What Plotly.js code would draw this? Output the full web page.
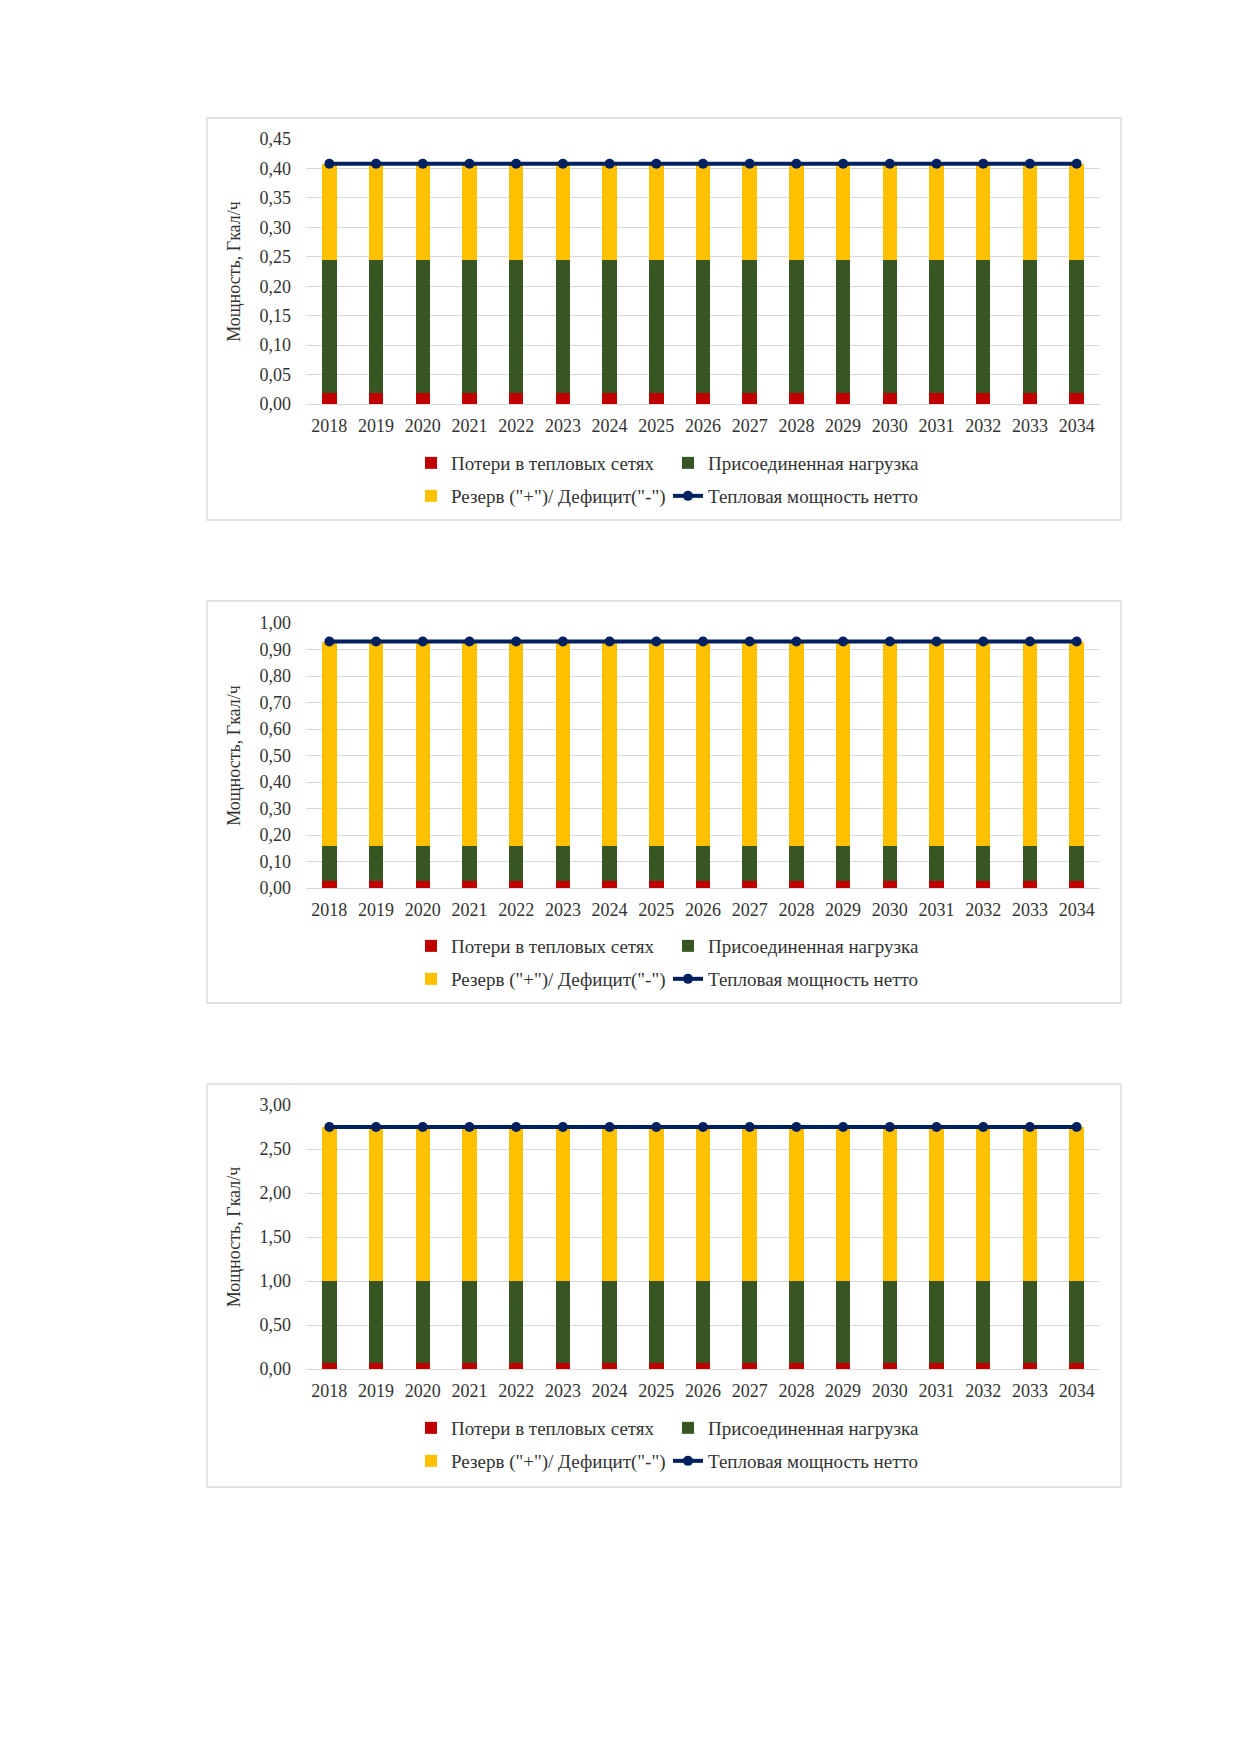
<!DOCTYPE html>
<html>
<head>
<meta charset="utf-8">
<script src="https://cdn.plot.ly/plotly-3.0.1.min.js"></script>
<style>
html,body{margin:0;padding:0;background:#fff;}
#chart{width:1239px;height:1752px;}
</style>
</head>
<body>
<div id="chart"></div>
<script>
// ---------- DATA ----------
const years = ["2018","2019","2020","2021","2022","2023","2024","2025","2026","2027","2028","2029","2030","2031","2032","2033","2034"];
const seriesNames = ["Потери в тепловых сетях","Присоединенная нагрузка","Резерв (\"+\")/ Дефицит(\"-\")","Тепловая мощность нетто"];
const yTitle = "Мощность, Гкал/ч";

// Chart 1
const losses1  = [0.018,0.018,0.018,0.018,0.018,0.018,0.018,0.018,0.018,0.018,0.018,0.018,0.018,0.018,0.018,0.018,0.018];
const load1    = [0.226,0.226,0.226,0.226,0.226,0.226,0.226,0.226,0.226,0.226,0.226,0.226,0.226,0.226,0.226,0.226,0.226];
const reserve1 = [0.164,0.164,0.164,0.164,0.164,0.164,0.164,0.164,0.164,0.164,0.164,0.164,0.164,0.164,0.164,0.164,0.164];
const net1     = [0.408,0.408,0.408,0.408,0.408,0.408,0.408,0.408,0.408,0.408,0.408,0.408,0.408,0.408,0.408,0.408,0.408];

// Chart 2
const losses2  = [0.025,0.025,0.025,0.025,0.025,0.025,0.025,0.025,0.025,0.025,0.025,0.025,0.025,0.025,0.025,0.025,0.025];
const load2    = [0.135,0.135,0.135,0.135,0.135,0.135,0.135,0.135,0.135,0.135,0.135,0.135,0.135,0.135,0.135,0.135,0.135];
const reserve2 = [0.77,0.77,0.77,0.77,0.77,0.77,0.77,0.77,0.77,0.77,0.77,0.77,0.77,0.77,0.77,0.77,0.77];
const net2     = [0.93,0.93,0.93,0.93,0.93,0.93,0.93,0.93,0.93,0.93,0.93,0.93,0.93,0.93,0.93,0.93,0.93];

// Chart 3
const losses3  = [0.07,0.07,0.07,0.07,0.07,0.07,0.07,0.07,0.07,0.07,0.07,0.07,0.07,0.07,0.07,0.07,0.07];
const load3    = [0.93,0.93,0.93,0.93,0.93,0.93,0.93,0.93,0.93,0.93,0.93,0.93,0.93,0.93,0.93,0.93,0.93];
const reserve3 = [1.75,1.75,1.75,1.75,1.75,1.75,1.75,1.75,1.75,1.75,1.75,1.75,1.75,1.75,1.75,1.75,1.75];
const net3     = [2.75,2.75,2.75,2.75,2.75,2.75,2.75,2.75,2.75,2.75,2.75,2.75,2.75,2.75,2.75,2.75,2.75];

const yRanges = [[0,0.45],[0,1.0],[0,3.0]];
const yDticks = [0.05,0.1,0.5];

// ---------- LAYOUT HELPERS ----------
const W = 1239, H = 1752;
const px = x => x / W;
const py = y => 1 - y / H;

const colors = {loss:"#C00000", load:"#375623", reserve:"#FFC000", net:"#002060"};
const FONT = "Liberation Serif, Times New Roman, serif";
const TXT = "#333333";

const charts = [
  {losses:losses1, load:load1, reserve:reserve1, net:net1, top:118, plotTop:139, plotBot:404, boxBot:520, leg1:463, leg2:496},
  {losses:losses2, load:load2, reserve:reserve2, net:net2, top:601, plotTop:623, plotBot:888, boxBot:1003, leg1:946, leg2:979},
  {losses:losses3, load:load3, reserve:reserve3, net:net3, top:1084, plotTop:1105, plotBot:1369, boxBot:1487, leg1:1428, leg2:1461}
];

const traces = [];
const layout = {
  width: W, height: H,
  margin: {l:0, r:0, t:0, b:0},
  paper_bgcolor: "#ffffff",
  plot_bgcolor: "#ffffff",
  barmode: "stack",
  bargap: 0.69,
  separators: ", ",
  font: {family: FONT, size: 18, color: TXT},
  showlegend: true,
  shapes: []
};

charts.forEach((c, i) => {
  const n = i + 1;
  const xa = "x" + (n === 1 ? "" : n);
  const ya = "y" + (n === 1 ? "" : n);
  const lgA = "legend" + (i === 0 ? "" : (2*i + 1));
  const lgB = "legend" + (2*i + 2);

  traces.push({type:"bar", x:years, y:c.losses, name:seriesNames[0], xaxis:xa, yaxis:ya, legend:lgA,
               marker:{color:colors.loss}, hoverinfo:"y+name"});
  traces.push({type:"bar", x:years, y:c.load, name:seriesNames[1], xaxis:xa, yaxis:ya, legend:lgA,
               marker:{color:colors.load}, hoverinfo:"y+name"});
  traces.push({type:"bar", x:years, y:c.reserve, name:seriesNames[2], xaxis:xa, yaxis:ya, legend:lgB,
               marker:{color:colors.reserve}, hoverinfo:"y+name"});
  traces.push({type:"scatter", mode:"lines+markers", x:years, y:c.net, name:seriesNames[3], xaxis:xa, yaxis:ya, legend:lgB,
               line:{color:colors.net, width:4}, marker:{color:colors.net, size:10, symbol:"circle"}, hoverinfo:"y+name"});

  const xKey = "xaxis" + (n === 1 ? "" : n);
  const yKey = "yaxis" + (n === 1 ? "" : n);
  layout[xKey] = {
    type: "category",
    domain: [px(306), px(1100)],
    range: [-0.5, years.length - 0.5],
    autorange: false,
    anchor: ya,
    showgrid: false, zeroline: false, showline: false,
    ticks: "", ticklabelstandoff: 9,
    tickfont: {family: FONT, size: 18, color: TXT},
    fixedrange: true
  };
  layout[yKey] = {
    domain: [py(c.plotBot), py(c.plotTop)],
    anchor: xa,
    range: yRanges[i],
    autorange: false,
    dtick: yDticks[i],
    tick0: 0,
    tickformat: ".2f",
    showgrid: true, gridcolor: "#d9d9d9", gridwidth: 1,
    zeroline: true, zerolinecolor: "#d9d9d9", zerolinewidth: 1,
    showline: false,
    ticks: "", ticklabelstandoff: 14,
    tickfont: {family: FONT, size: 18, color: TXT},
    title: {text: yTitle, font: {family: FONT, size: 18, color: TXT}, standoff: 14},
    fixedrange: true
  };

  const legCommon = {
    orientation: "h", xanchor: "left", yanchor: "middle",
    x: px(411), entrywidth: 212, entrywidthmode: "pixels",
    bgcolor: "rgba(0,0,0,0)", borderwidth: 0,
    font: {family: FONT, size: 19, color: TXT},
    itemwidth: 30, traceorder: "normal", itemclick: false, itemdoubleclick: false
  };
  layout[lgA] = Object.assign({}, legCommon, {y: py(c.leg1)});
  layout[lgB] = Object.assign({}, legCommon, {y: py(c.leg2)});

  layout.shapes.push({
    type: "rect", xref: "paper", yref: "paper",
    x0: px(207), x1: px(1121), y0: py(c.boxBot), y1: py(c.top),
    line: {color: "#d9d9d9", width: 1.3}, fillcolor: "rgba(0,0,0,0)", layer: "below"
  });
});

Plotly.newPlot("chart", traces, layout, {displayModeBar: false, staticPlot: true});
</script>
</body>
</html>
